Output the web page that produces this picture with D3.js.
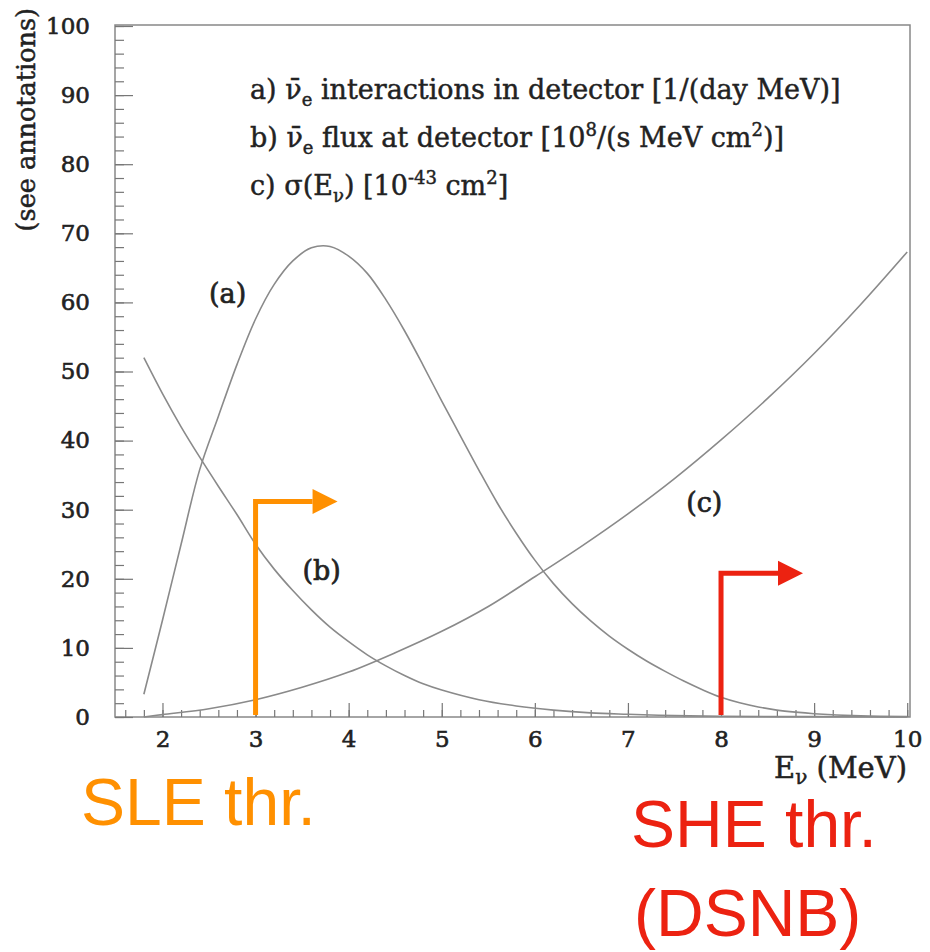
<!DOCTYPE html>
<html>
<head>
<meta charset="utf-8">
<script src="https://cdn.jsdelivr.net/npm/d3@7"></script>
<style>
  html, body { margin: 0; padding: 0; background: #fff; }
</style>
</head>
<body>
<div id="chart"></div>
<script>
// values
const energyA = [1.8, 2.0, 2.2, 2.4, 2.6, 2.8, 3.0, 3.2, 3.4, 3.6, 3.8, 4.0, 4.2, 4.4, 4.6, 4.8, 5.0, 5.2, 5.4,
  5.6, 5.8, 6.0, 6.2, 6.4, 6.6, 6.8, 7.0, 7.2, 7.4, 7.6, 7.8, 8.0, 8.2, 8.4, 8.6, 8.8, 9.0, 9.5, 10.0];
const interactions = [3.3, 14, 25, 35.8, 43.5, 51, 57.6, 62.6, 66.0, 67.9, 68.1, 66.7, 64.2, 60.4, 55.9, 50.9, 45.7, 40.7, 35.7,
  30.9, 26.6, 22.7, 19.3, 16.4, 13.9, 11.7, 9.8, 8.1, 6.6, 5.2, 3.95, 2.85, 2.05, 1.45, 1.0, 0.7, 0.48, 0.16, 0.05];

const energyB = [1.8, 2.0, 2.2, 2.4, 2.6, 2.8, 3.0, 3.2, 3.4, 3.6, 3.8, 4.0, 4.2, 4.4, 4.6, 4.8, 5.0,
  5.4, 5.8, 6.2, 6.6, 7.0, 7.5, 8.0, 9.0, 10.0];
const flux = [52, 46.8, 42, 37.6, 33.4, 29.3, 25.0, 21.4, 18.3, 15.5, 13.0, 10.9, 9.0, 7.4, 6.0, 4.8, 3.9,
  2.5, 1.6, 1.0, 0.6, 0.4, 0.2, 0.1, 0.05, 0.02];

const energyC = [1.8, 2.0, 2.5, 3.0, 3.5, 4.0, 4.5, 5.0, 5.5, 6.0, 6.5, 7.0, 7.5, 8.0, 8.5, 9.0, 9.5, 10.0];
const crossSection = [0, 0.35, 1.2, 2.5, 4.3, 6.5, 9.3, 12.4, 16.0, 20.3, 24.7, 29.4, 34.5, 40.1, 46.1, 52.6, 59.7, 67.3];

const xTicks = [2, 3, 4, 5, 6, 7, 8, 9, 10];
const yTicks = [0, 10, 20, 30, 40, 50, 60, 70, 80, 90, 100];

const curveLabels = ["(a)", "(b)", "(c)"];
const thresholdNames = ["SLE thr.", "SHE thr."];
const thresholdEnergy = [3, 8];

// svg
const width = 930, height = 952;
const plotLeft = 115, plotRight = 910, plotTop = 26, plotBottom = 717;
const serif = "'DejaVu Serif', serif";
const sans = "'Liberation Sans', Arial, sans-serif";
const ink = "#222";
const orange = "#ff9000", red = "#ec2211";

const svg = d3.select("#chart").append("svg")
  .attr("width", width)
  .attr("height", height);

const x = d3.scaleLinear().domain([1.49, 10.03]).range([plotLeft, plotRight]);
const y = d3.scaleLinear().domain([0, 100]).range([plotBottom, plotTop]);

// serif text looks heavier in the original, thicken it a little
const heavy = (sel, w) => sel.attr("fill", ink).attr("stroke", ink).attr("stroke-width", w);

//frame
svg.append("rect")
  .attr("x", plotLeft).attr("y", y(100) - 1)
  .attr("width", plotRight - plotLeft).attr("height", plotBottom - y(100) + 1)
  .attr("fill", "none").attr("stroke", "#888").attr("stroke-width", 1.5);

//minor ticks
svg.append("g")
  .attr("transform", `translate(0,${plotBottom})`)
  .call(d3.axisBottom(x).tickValues(d3.range(1.6, 10.01, 0.2)).tickSize(-7).tickFormat(""))
  .call(g => g.select(".domain").remove());
svg.append("g")
  .attr("transform", `translate(${plotLeft},0)`)
  .call(d3.axisLeft(y).tickValues(d3.range(0, 100.1, 2)).tickSize(-9).tickFormat(""))
  .call(g => g.select(".domain").remove());

//major ticks
const xAxis = svg.append("g")
  .attr("transform", `translate(0,${plotBottom})`)
  .call(d3.axisBottom(x).tickValues(xTicks).tickSize(-14).tickPadding(14));
const yAxis = svg.append("g")
  .attr("transform", `translate(${plotLeft},0)`)
  .call(d3.axisLeft(y).tickValues(yTicks).tickSize(-18).tickPadding(25));

[xAxis, yAxis].forEach(g => {
  g.select(".domain").remove();
  g.selectAll("text").attr("font-family", serif).attr("font-size", 23).call(heavy, 0.6);
});
svg.selectAll(".tick line").attr("stroke", "#777").attr("stroke-width", 1.2);

//axis titles
svg.append("text")
  .attr("transform", "translate(35,8) rotate(-90)")
  .attr("text-anchor", "end")
  .attr("font-family", serif).attr("font-size", 25.5)
  .call(heavy, 0.5)
  .text("(see annotations)");

const xTitle = svg.append("text")
  .attr("x", 907).attr("y", 778)
  .attr("text-anchor", "end")
  .attr("font-family", serif).attr("font-size", 29)
  .call(heavy, 0.5);
xTitle.append("tspan").text("E");
xTitle.append("tspan").attr("font-size", 20).attr("dy", 6).text("ν");
xTitle.append("tspan").attr("dy", -6).text(" (MeV)");

//legend
function richText(xPos, yPos, parts) {
  const t = svg.append("text")
    .attr("x", xPos).attr("y", yPos)
    .attr("font-family", serif).attr("font-size", 27)
    .call(heavy, 0.45);
  let shift = 0;
  parts.forEach(p => {
    const target = p[1] === "sub" ? 7 : p[1] === "sup" ? -11 : 0;
    t.append("tspan")
      .attr("dy", target - shift)
      .attr("font-size", p[1] ? 18 : 27)
      .text(p[0]);
    shift = target;
  });
}
richText(250, 99, [["a) ν̄"], ["e", "sub"], [" interactions in detector [1/(day MeV)]"]]);
richText(250, 147, [["b) ν̄"], ["e", "sub"], [" flux at detector [10"], ["8", "sup"], ["/(s MeV cm"], ["2", "sup"], [")]"]]);
richText(250, 195, [["c) σ(E"], ["ν", "sub"], [") [10"], ["-43", "sup"], [" cm"], ["2", "sup"], ["]"]]);

//curves
const line = d3.line().curve(d3.curveCatmullRom.alpha(0.5)).x(d => x(d[0])).y(d => y(d[1]));
[[energyA, interactions], [energyB, flux], [energyC, crossSection]].forEach(([es, vs]) => {
  svg.append("path")
    .datum(es.map((e, i) => [e, vs[i]]))
    .attr("d", line)
    .attr("fill", "none")
    .attr("stroke", "#8a8a8a")
    .attr("stroke-width", 1.6);
});

//curve labels
const labelPos = [[2.70, 59.9], [3.71, 19.8], [7.82, 29.7]];
curveLabels.forEach((lbl, i) => {
  svg.append("text")
    .attr("x", x(labelPos[i][0])).attr("y", y(labelPos[i][1]))
    .attr("text-anchor", "middle")
    .attr("font-family", serif).attr("font-size", 27)
    .call(heavy, 0.7)
    .text(lbl);
});

//threshold arrows
const arrowTop = [31.2, 20.8];
const arrowColors = [orange, red];
thresholdEnergy.forEach((e, i) => {
  const x0 = x(e), yTop = y(arrowTop[i]), xEnd = x0 + 57, xTip = x0 + 82;
  svg.append("path")
    .attr("d", `M${x0},${y(0.3)}V${yTop}H${xEnd}`)
    .attr("fill", "none")
    .attr("stroke", arrowColors[i])
    .attr("stroke-width", 5)
    .attr("stroke-linejoin", "miter");
  svg.append("polygon")
    .attr("points", `${xEnd},${yTop - 12.5} ${xTip},${yTop} ${xEnd},${yTop + 12.5}`)
    .attr("fill", arrowColors[i]);
});

//threshold names
svg.append("text")
  .attr("x", 81).attr("y", 825)
  .attr("font-family", sans).attr("font-size", 66).attr("fill", orange)
  .text(thresholdNames[0]);
svg.append("text")
  .attr("x", 631).attr("y", 847)
  .attr("font-family", sans).attr("font-size", 66).attr("fill", red)
  .text(thresholdNames[1]);
svg.append("text")
  .attr("x", 634).attr("y", 936)
  .attr("font-family", sans).attr("font-size", 66).attr("fill", red)
  .text("(DSNB)");
</script>
</body>
</html>
